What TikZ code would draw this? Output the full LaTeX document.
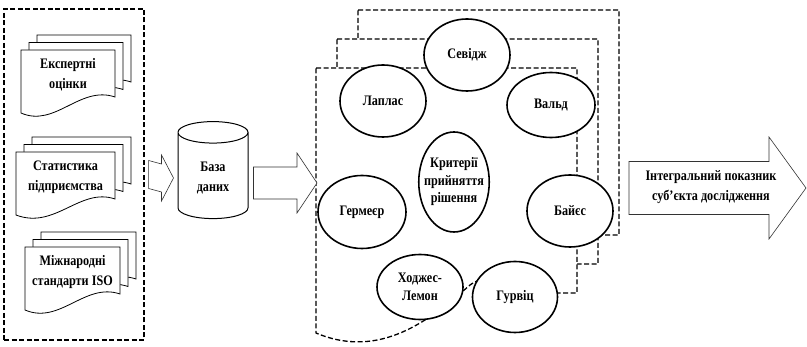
\documentclass[tikz,border=0pt]{standalone}
\usepackage{fontspec}
\setmainfont{Liberation Serif}[FakeStretch=0.84]
\usetikzlibrary{shapes.geometric, calc}
\tikzset{
  frame/.style={
    draw=black,
    line width=1.3pt,
    dash pattern=on 5pt off 2.5pt
  },
%
  page/.style={
    draw=black,
    line width=0.8pt,
    fill=white
  },
%
  doctext/.style={
    align=center,
    font=\fontsize{14.5}{20}\selectfont\bfseries
  },
%
  db/.style={
    draw=black,
    line width=1pt,
    cylinder,
    shape border rotate=90,
    aspect=0.55,
    minimum width=70pt,
    minimum height=97pt,
    align=center,
    font=\fontsize{14.5}{20}\selectfont\bfseries
  },
%
  crit/.style={
    draw=black,
    ellipse,
    line width=1.6pt,
    fill=white,
    inner sep=0pt,
    align=center,
    minimum width=86pt,
    minimum height=72pt,
    font=\fontsize{14.5}{17.5}\selectfont\bfseries
  },
%
  blockarrow/.style={
    draw=black!80,
    line width=0.6pt,
    fill=white
  },
}
% from, to, body half, head half, head length
\newcommand{\blockarr}[5]{%
  \draw[blockarrow] ($(#1)+(0,#3)$) -- ($(#2)+(-#5,#3)$) -- ($(#2)+(-#5,#4)$)
    -- (#2) -- ($(#2)+(-#5,-#4)$) -- ($(#2)+(-#5,-#3)$) -- ($(#1)+(0,-#3)$) -- cycle;
}
% name, x, y, width, text
\newcommand{\docstack}[5]{%
  \foreach \k in {2,1,0}
    \draw[page, shift={(#2+8*\k,#3-7.5*\k)}] (0,0) -- (#4,0) -- (#4,47)
      .. controls (#4-35,35) and (#4-60,78) .. (0,63) -- cycle;
  \node[doctext] (#1) at (#2+#4/2,#3+25) {#5};
}

\begin{document}
\begin{tikzpicture}[x=1pt,y=-1pt]
\useasboundingbox (0,0) rectangle (807,347);

% sources
\node[frame, minimum width=140pt, minimum height=331pt, inner sep=0pt] (src) at (74,174.5) {};
\docstack{expert}{21}{50}{94}{Експертні\\оцінки}
\docstack{stats}{16}{152}{99}{Статистика\\підприємства}
\docstack{iso}{25}{247}{95}{Міжнародні\\стандарти ISO}

\node[db] (db) at (213,178) {База\\даних};

% stacked criteria sheets
\foreach \k in {2,1,0}
  \draw[frame, fill=white, shift={(21*\k,-29*\k)}] (316,68) -- (577,68) -- (577,293) -- (540,293)
    .. controls (500,293) and (490,270) .. (470,285)
    .. controls (430,320) and (380,360) .. (316,333) -- cycle;

\node[crit] (savage) at (467,55) {Севідж};
\node[crit] (laplace) at (383,101) {Лаплас};
\node[crit, minimum width=88pt, minimum height=65pt] (wald) at (551,105) {Вальд};
\node[crit, inner xsep=-5pt, minimum width=69pt, minimum height=100pt] (criteria) at (454,182) {Критерії\\прийняття\\рішення};
\node[crit, minimum width=88pt, minimum height=73pt] (germeier) at (362,212) {Гермеєр};
\node[crit] (bayes) at (570,211) {Байєс};
\node[crit, minimum height=65pt] (hodges) at (420,287) {Ходжес-\\Лемон};
\node[crit, minimum width=85pt, minimum height=71pt] (hurwicz) at (515,297) {Гурвіц};

% block arrows
\coordinate (a1from) at ($(src.east)+(4,0)$);
\coordinate (a1to) at ($(db.west)+(-4,0)$);
\blockarr{a1from}{a1to}{14}{23}{12}
\coordinate (a2from) at ($(db.east)+(5,5)$);
\coordinate (a2to) at (317,183);
\blockarr{a2from}{a2to}{16}{30}{20}
\coordinate (a3from) at (629,188);
\coordinate (a3to) at (806,188);
\blockarr{a3from}{a3to}{26.5}{51}{37}
\node[doctext] (result) at (711,187) {Інтегральний показник\\суб’єкта дослідження};

\end{tikzpicture}
\end{document}
